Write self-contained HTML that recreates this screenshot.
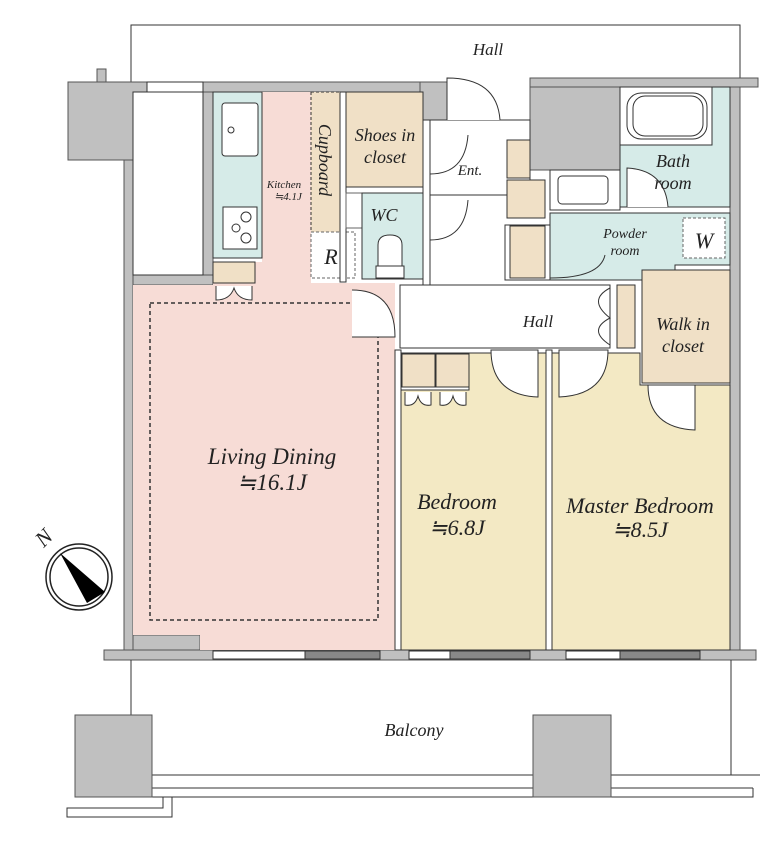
<!DOCTYPE html>
<html><head><meta charset="utf-8"><style>
html,body{margin:0;padding:0;background:#fff}
svg{display:block}
text{font-family:"Liberation Serif",serif;font-style:italic;fill:#222}
</style></head><body>
<svg width="783" height="842" viewBox="0 0 783 842" xmlns="http://www.w3.org/2000/svg">
<g stroke="#333" stroke-width="1" fill="none">
<polyline points="131,82 131,25 740,25 740,80"/>
</g>
<g fill="#c0c0c0" stroke="#555" stroke-width="1">
<rect x="68" y="82" width="79" height="78"/>
<rect x="97" y="69" width="9" height="13"/>
<rect x="124" y="160" width="9" height="500"/>
<rect x="147" y="82" width="285" height="10"/>
<rect x="203" y="92" width="10" height="193"/>
<rect x="133" y="275" width="80" height="10"/>
<rect x="420" y="82" width="27" height="38"/>
<rect x="530" y="78" width="228" height="9"/>
<rect x="530" y="87" width="90" height="83"/>
<rect x="730" y="87" width="10" height="568"/>
<rect x="104" y="650" width="652" height="10"/>
<polygon points="133,635 200,635 200,650 133,650"/>
</g>
<rect x="147" y="82" width="56" height="10" fill="#fff" stroke="#333"/>
<rect x="133" y="92" width="70" height="183" fill="#fff" stroke="#333"/>
<polygon points="133,285 213,285 213,262 262,262 262,92 311,92 311,283 395,283 395,650 200,650 200,635 133,635" fill="#f7dcd6"/>
<rect x="150" y="303" width="228" height="317" fill="none" stroke="#333" stroke-dasharray="4,3" stroke-width="1.5"/>
<rect x="213" y="92" width="49" height="166" fill="#d6ebe8" stroke="#333"/>
<rect x="222" y="103" width="36" height="53" rx="3" fill="#fff" stroke="#333"/>
<circle cx="231" cy="130" r="3" fill="none" stroke="#333"/>
<rect x="223" y="207" width="34" height="42" fill="#fff" stroke="#333"/>
<g fill="none" stroke="#333"><circle cx="246" cy="217" r="5"/><circle cx="236" cy="228" r="4"/><circle cx="246" cy="238" r="5"/></g>
<rect x="213" y="262" width="42" height="21" fill="#f0e0c6" stroke="#333"/>
<path d="M216,286 L216,300 Q230,300 234,288 Q238,300 252,300 L252,286" fill="#fff" stroke="#333"/>
<rect x="311" y="92" width="29" height="140" fill="#f0e0c6" stroke="#333" stroke-dasharray="3,2"/>
<rect x="311" y="232" width="44" height="46" fill="#fff" stroke="#666" stroke-dasharray="3,2"/>
<rect x="340" y="92" width="6" height="190" fill="#fff" stroke="#333"/>
<rect x="346" y="92" width="77" height="95" fill="#f0e0c6" stroke="#333"/>
<rect x="346" y="193" width="16" height="35" fill="#fff" stroke="#666"/>
<rect x="362" y="193" width="61" height="86" fill="#d6ebe8" stroke="#333"/>
<path d="M378,268 L378,245 Q378,235 390,235 Q402,235 402,245 L402,268 Z" fill="#fff" stroke="#333"/>
<rect x="376" y="266" width="28" height="12" fill="#fff" stroke="#333"/>
<rect x="423" y="120" width="7" height="165" fill="#fff" stroke="#333"/>
<rect x="430" y="120" width="100" height="75" fill="#fff" stroke="#333"/>
<path d="M447,120 L447,78 Q497,78 500,120" fill="#fff" stroke="#333"/>
<path d="M430,135 L430,174 Q465,174 468,135" fill="none" stroke="#333"/>
<path d="M430,200 L430,240 Q465,240 468,200" fill="none" stroke="#333"/>
<rect x="507" y="140" width="23" height="38" fill="#f0e0c6" stroke="#333"/>
<rect x="507" y="180" width="38" height="38" fill="#f0e0c6" stroke="#333"/>
<rect x="505" y="225" width="45" height="55" fill="#fff" stroke="#333"/>
<rect x="510" y="226" width="35" height="52" fill="#f0e0c6" stroke="#333"/>
<rect x="620" y="87" width="110" height="120" fill="#d6ebe8" stroke="#333"/>
<rect x="620" y="87" width="92" height="58" fill="#fff" stroke="#333"/>
<rect x="627" y="93" width="80" height="46" rx="14" fill="none" stroke="#333"/>
<rect x="633" y="96" width="70" height="40" rx="12" fill="none" stroke="#333"/>
<rect x="550" y="170" width="70" height="40" fill="#fff" stroke="#333"/>
<rect x="558" y="176" width="50" height="28" rx="4" fill="#fff" stroke="#333"/>
<path d="M627,207 L627,168 Q665,170 668,207" fill="#fff" stroke="#333"/>
<polygon points="550,213 730,213 730,265 675,265 675,280 550,280" fill="#d6ebe8" stroke="#333"/>
<rect x="683" y="218" width="42" height="40" fill="#fff" stroke="#666" stroke-dasharray="3,2"/>
<path d="M550,235 L550,278 Q600,278 605,255" fill="none" stroke="#333"/>
<rect x="400" y="285" width="210" height="63" fill="#fff" stroke="#333"/>
<path d="M352,290 Q395,290 395,337 L352,337" fill="#fff" stroke="#333"/>
<path d="M610,288 Q587,300 610,318 Q587,330 610,345" fill="none" stroke="#333"/>
<rect x="617" y="285" width="18" height="63" fill="#f0e0c6" stroke="#333"/>
<rect x="642" y="270" width="88" height="113" fill="#f0e0c6" stroke="#333"/>
<rect x="395" y="350" width="6" height="300" fill="#fff" stroke="#333"/>
<rect x="401" y="353" width="145" height="297" fill="#f3e9c4" stroke="#333"/>
<rect x="546" y="350" width="6" height="300" fill="#fff" stroke="#333"/>
<polygon points="552,353 640,353 640,385 730,385 730,650 552,650" fill="#f3e9c4" stroke="#333"/>
<rect x="401" y="353" width="68" height="37" fill="#fff" stroke="#333"/>
<rect x="402" y="354" width="33" height="33" fill="#f0e0c6" stroke="#333"/>
<rect x="436" y="354" width="33" height="33" fill="#f0e0c6" stroke="#333"/>
<path d="M405,392 L405,405 Q415,407 418,396 Q421,407 431,405 L431,392" fill="#fff" stroke="#333"/>
<path d="M440,392 L440,405 Q450,407 453,396 Q456,407 466,405 L466,392" fill="#fff" stroke="#333"/>
<path d="M491,350 Q491,395 538,397 L538,350 Z" fill="#fff" stroke="#333"/>
<path d="M608,350 Q608,395 559,397 L559,350 Z" fill="#fff" stroke="#333"/>
<path d="M648,385 Q648,428 695,430 L695,385 Z" fill="#fff" stroke="#333"/>
<g stroke="#333">
<rect x="213" y="651" width="167" height="8" fill="#fff"/>
<rect x="409" y="651" width="121" height="8" fill="#fff"/>
<rect x="566" y="651" width="134" height="8" fill="#fff"/>
<rect x="305" y="651" width="75" height="8" fill="#888"/>
<rect x="450" y="651" width="80" height="8" fill="#888"/>
<rect x="620" y="651" width="80" height="8" fill="#888"/>
</g>
<g stroke="#333" fill="none">
<line x1="131" y1="660" x2="131" y2="715"/>
<line x1="731" y1="660" x2="731" y2="775"/>
<line x1="152" y1="775" x2="760" y2="775"/>
<line x1="152" y1="788" x2="753" y2="788"/>
<polyline points="152,797 753,797 753,788"/>
<polyline points="163,797 163,808 67,808 67,817 172,817 172,797"/>
</g>
<rect x="75" y="715" width="77" height="82" fill="#c0c0c0" stroke="#555"/>
<rect x="533" y="715" width="78" height="82" fill="#c0c0c0" stroke="#555"/>
<circle cx="79" cy="577" r="33" fill="#fff" stroke="#222" stroke-width="1.5"/>
<circle cx="79" cy="577" r="29" fill="none" stroke="#222" stroke-width="1.5"/>
<polygon points="60,553 105,592 87,603" fill="#000"/>
<text x="44" y="545" font-size="22" transform="rotate(-45 44 538)" text-anchor="middle">N</text>
<g text-anchor="middle">
<text x="488" y="55" font-size="17">Hall</text>
<text x="538" y="327" font-size="17">Hall</text>
<text x="272" y="464" font-size="23">Living Dining</text>
<text x="272" y="490" font-size="23">≒16.1J</text>
<text x="457" y="509" font-size="22">Bedroom</text>
<text x="457" y="535" font-size="22">≒6.8J</text>
<text x="640" y="513" font-size="22">Master Bedroom</text>
<text x="640" y="537" font-size="22">≒8.5J</text>
<text x="683" y="330" font-size="18">Walk in</text>
<text x="683" y="352" font-size="18">closet</text>
<text x="673" y="167" font-size="18">Bath</text>
<text x="673" y="189" font-size="18">room</text>
<text x="625" y="238" font-size="14">Powder</text>
<text x="625" y="255" font-size="14">room</text>
<text x="704" y="248" font-size="22">W</text>
<text x="470" y="175" font-size="15">Ent.</text>
<text x="384" y="221" font-size="18">WC</text>
<text x="331" y="264" font-size="22">R</text>
<text x="284" y="188" font-size="11">Kitchen</text>
<text x="288" y="200" font-size="11">≒4.1J</text>
<text x="385" y="141" font-size="18">Shoes in</text>
<text x="385" y="163" font-size="18">closet</text>
<text x="325" y="160" font-size="18" transform="rotate(90 325 160)" dy="6">Cupboard</text>
<text x="414" y="736" font-size="18">Balcony</text>
</g>
</svg>
</body></html>
